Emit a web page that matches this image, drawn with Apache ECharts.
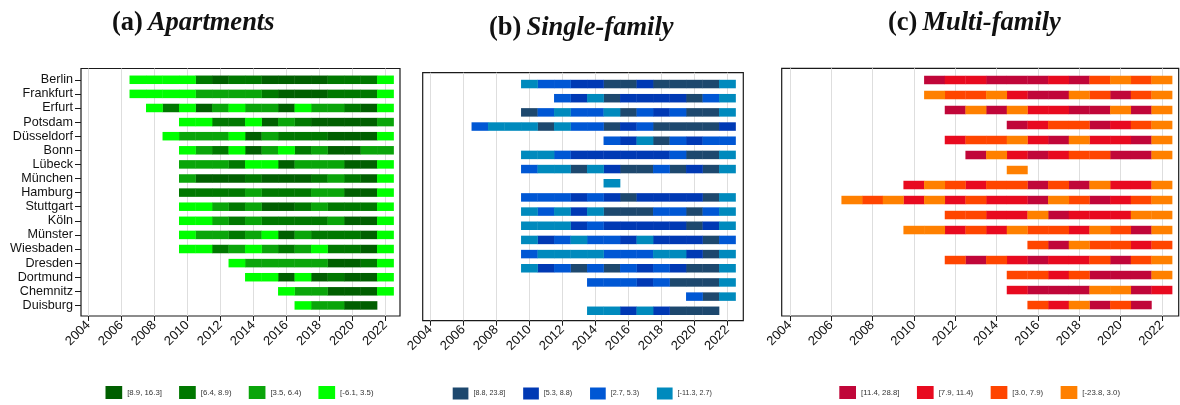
<!DOCTYPE html>
<html>
<head>
<meta charset="utf-8">
<script src="https://cdn.jsdelivr.net/npm/echarts@6/dist/echarts.min.js"></script>
<style>
  html, body { margin: 0; padding: 0; background: #fff; }
  #main { width: 1180px; height: 405px; }
</style>
</head>
<body>
<div id="main"></div>
<script>
// years on the axis, one cell per year (first char of each row string = 2004)
var firstYear = 2004;
var yearTicks = [2004, 2006, 2008, 2010, 2012, 2014, 2016, 2018, 2020, 2022];

var cities = ['Berlin', 'Frankfurt', 'Erfurt', 'Potsdam', 'Düsseldorf', 'Bonn', 'Lübeck', 'München',
  'Hamburg', 'Stuttgart', 'Köln', 'Münster', 'Wiesbaden', 'Dresden', 'Dortmund', 'Chemnitz', 'Duisburg'];
// panel (c) has one row less
var citiesMulti = ['Berlin', 'Frankfurt', 'Erfurt', 'Potsdam', 'Düsseldorf', 'Bonn', 'München',
  'Hamburg', 'Stuttgart', 'Köln', 'Münster', 'Wiesbaden', 'Dresden', 'Dortmund', 'Chemnitz', 'Duisburg'];

// class per year: 0 = highest growth class ... 3 = lowest, '.' = no data
var apartments = [
  '...3333101100001113',
  '...3333222210001113',
  '....313023220322103',
  '......3311302100002',
  '.....32223021110003',
  '......3213023120022',
  '......2221330222003',
  '......2000100012103',
  '......1111211122003',
  '......3321200121113',
  '......3321211112003',
  '......3221230211103',
  '......3312321231103',
  '.........3222220013',
  '..........330301003',
  '............3220003',
  '.............32200.'
];
var singleFamily = [
  '......3221100100003',
  '........21301111023',
  '......0232230212003',
  '...2333032201200001',
  '...........21302122',
  '......3321111112003',
  '......2330310020103',
  '...........3.......',
  '......2221210111103',
  '......3231300022023',
  '......3331211111013',
  '......3123221311102',
  '......2333322233103',
  '......3120202121003',
  '..........222120003',
  '................203',
  '..........33131000.'
];
var multiFamily = [
  '.......011000102323',
  '.......322310032023',
  '........03031100303',
  '...........01220123',
  '........12231031103',
  '.........0310122003',
  '...........3.......',
  '......1321220203113',
  '...3231312110320123',
  '........22113011133',
  '......3312132213203',
  '............2032212',
  '........20210112023',
  '...........22120003',
  '...........10003301',
  '............213020.'
];

var classesApartments = ['[8.9, 16.3]', '[6.4, 8.9)', '[3.5, 6.4)', '[-6.1, 3.5)'];
var classesSingle = ['[8.8, 23.8]', '[5.3, 8.8)', '[2.7, 5.3)', '[-11.3, 2.7)'];
var classesMulti = ['[11.4, 28.8]', '[7.9, 11.4)', '[3.0, 7.9)', '[-23.8, 3.0)'];

var greens = ['#005f00', '#007800', '#0aa50a', '#00ff00'];
var blues = ['#1d486e', '#0039b4', '#0057d4', '#008abd'];
var reds = ['#c00639', '#e80a1f', '#ff4500', '#ff8000'];

var serifFont = '"Liberation Serif", "DejaVu Serif", serif';
var sansFont = '"Liberation Sans", Arial, sans-serif';

var myChart = echarts.init(document.getElementById('main'));

function cellsOf(rows, cls) {
  var out = [];
  rows.forEach(function (row, r) {
    for (var i = 0; i < row.length; i++) {
      if (row.charAt(i) === String(cls)) out.push([firstYear + i, r]);
    }
  });
  return out;
}

function drawCell(params, api) {
  var a = api.coord([api.value(0) - 0.5, api.value(1)]);
  var b = api.coord([api.value(0) + 0.5, api.value(1)]);
  return {
    type: 'rect',
    shape: { x: a[0], y: a[1] - 4.25, width: b[0] - a[0] + 0.3, height: 8.5 },
    style: { fill: api.visual('color') }
  };
}

// panel layouts
var panels = [
  { rows: apartments, names: cities, classes: classesApartments, colors: greens, title: 'Apartments', tag: '(a)',
    grid: { left: 81, top: 68.5, width: 319, height: 247.5 }, xmin: 2003.56, xmax: 2022.89, ymin: -0.8, ymax: 16.75,
    titlePos: { left: 112, top: 10 }, labels: true,
    legend: { left: 105.5, top: 386, w: 16.7, h: 13, gap: 17.2, font: 7.8 } },
  { rows: singleFamily, names: cities, classes: classesSingle, colors: blues, title: 'Single-family', tag: '(b)',
    grid: { left: 422.7, top: 72.7, width: 320.6, height: 248 }, xmin: 2003.54, xmax: 2022.97, ymin: -0.8, ymax: 16.7,
    titlePos: { left: 489, top: 15 }, labels: false,
    legend: { left: 452.7, top: 387.5, w: 15.7, h: 12, gap: 17.8, font: 7.2 } },
  { rows: multiFamily, names: citiesMulti, classes: classesMulti, colors: reds, title: 'Multi-family', tag: '(c)',
    grid: { left: 781.7, top: 68.3, width: 397, height: 247.7 }, xmin: 2003.61, xmax: 2022.82, ymin: -0.78, ymax: 15.73,
    titlePos: { left: 888, top: 10 }, labels: false,
    legend: { left: 839.3, top: 386, w: 16.7, h: 13, gap: 17.5, font: 7.8 } }
];

var grids = [], xAxes = [], yAxes = [], series = [], legends = [], titles = [];

panels.forEach(function (p, idx) {
  grids.push({
    left: p.grid.left, top: p.grid.top, width: p.grid.width, height: p.grid.height,
    show: true, borderColor: '#1a1a1a', borderWidth: 1.2, containLabel: false
  });
  xAxes.push({
    type: 'value', gridIndex: idx, min: p.xmin, max: p.xmax,
    axisLine: { show: false, onZero: false },
    axisTick: { show: true, length: 5, customValues: yearTicks, lineStyle: { color: '#1a1a1a' } },
    axisLabel: {
      customValues: yearTicks, rotate: 45, margin: 7, fontSize: 13, color: '#111', fontFamily: sansFont,
      formatter: function (v) { return String(v); }
    },
    splitLine: { show: true, lineStyle: { color: '#dedede', width: 1 } }
  });
  var ticks = p.names.map(function (n, i) { return i; });
  yAxes.push({
    type: 'value', gridIndex: idx, inverse: true, min: p.ymin, max: p.ymax,
    axisLine: { show: false, onZero: false },
    axisTick: { show: p.labels, length: 6, customValues: ticks, lineStyle: { color: '#1a1a1a' } },
    axisLabel: {
      show: p.labels, customValues: ticks, margin: 8, fontSize: 12.6, color: '#111', fontFamily: sansFont,
      formatter: function (v) { return p.names[v]; }
    },
    splitLine: { show: false }
  });
  p.classes.forEach(function (name, k) {
    series.push({
      type: 'custom', name: name, xAxisIndex: idx, yAxisIndex: idx,
      renderItem: drawCell, encode: { x: 0, y: 1 },
      itemStyle: { color: p.colors[k] },
      data: cellsOf(p.rows, k)
    });
  });
  legends.push({
    data: p.classes, orient: 'horizontal', left: p.legend.left, top: p.legend.top, padding: 0,
    icon: 'rect', itemWidth: p.legend.w, itemHeight: p.legend.h, itemGap: p.legend.gap, selectedMode: false,
    textStyle: { fontSize: p.legend.font, color: '#333', fontFamily: sansFont }
  });
  titles.push({
    left: p.titlePos.left, top: p.titlePos.top, padding: 0,
    text: '{b|' + p.tag + '} {i|' + p.title + '}',
    textStyle: {
      rich: {
        b: { fontFamily: serifFont, fontWeight: 'bold', fontSize: 26.5, color: '#111' },
        i: { fontFamily: serifFont, fontStyle: 'italic', fontSize: 26.5, color: '#111' }
      }
    }
  });
});

var option = {
  animation: false,
  backgroundColor: '#fff',
  title: titles,
  grid: grids,
  xAxis: xAxes,
  yAxis: yAxes,
  legend: legends,
  series: series
};

myChart.setOption(option);
</script>
</body>
</html>
